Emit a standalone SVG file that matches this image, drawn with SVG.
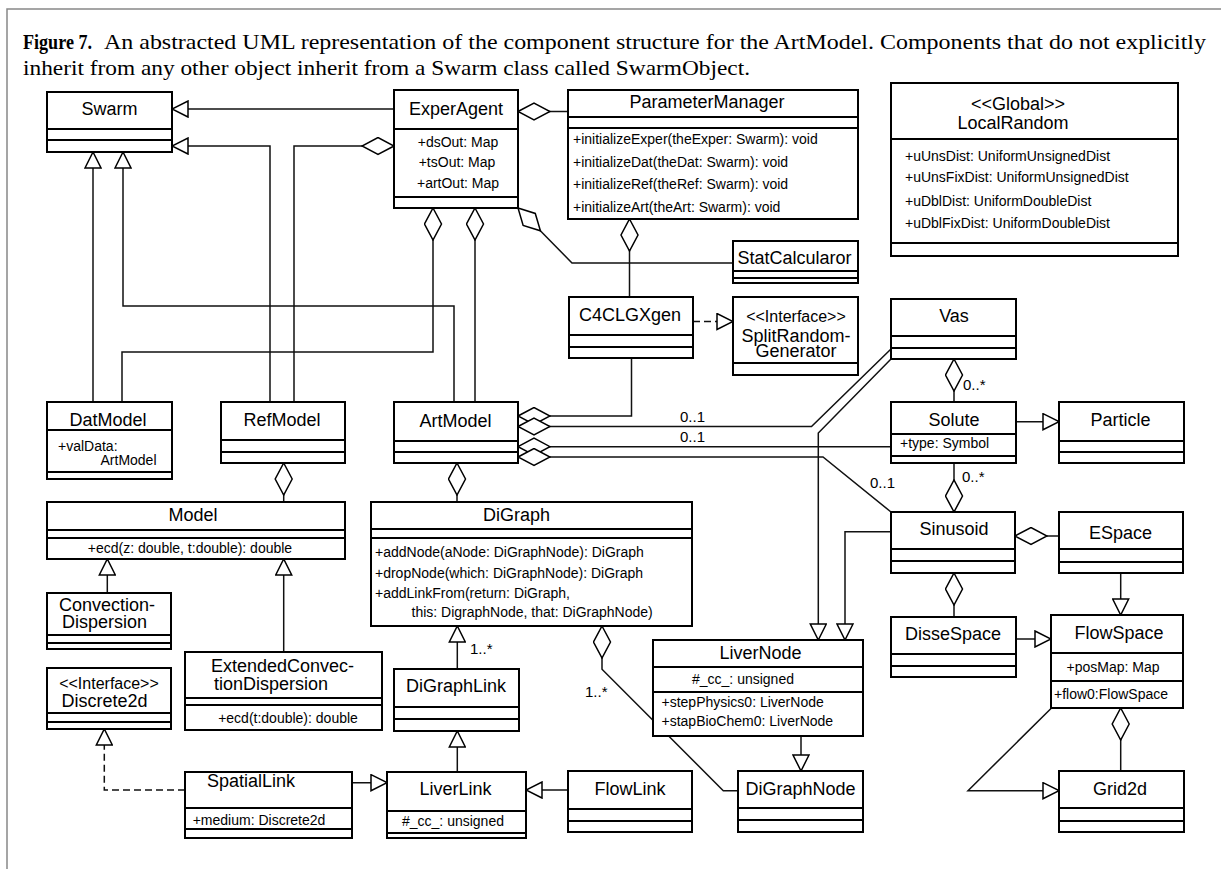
<svg xmlns="http://www.w3.org/2000/svg" width="1221" height="869" viewBox="0 0 1221 869">
<style>
.box{fill:#fff;stroke:#000;stroke-width:2}
.sep{stroke:#000;stroke-width:2;fill:none}
.conn{fill:none;stroke:#111;stroke-width:1.5}
.dash{stroke-dasharray:7,4}
.frame{stroke:#888;stroke-width:1.5;fill:none}
text{font-family:"Liberation Sans",Arial,sans-serif;fill:#000}
.n{font-size:18px;text-anchor:middle}
.nl{font-size:18px}
.st{font-size:16px;text-anchor:middle}
.a{font-size:14px}
.ac{font-size:14px;text-anchor:middle}
.lab{font-size:15px}
.cap{font-family:"Liberation Serif","Times New Roman",serif;font-size:21px}
</style>
<defs>
<marker id="tri" viewBox="-1 -1 18 18" refX="16" refY="8" markerWidth="18" markerHeight="18" markerUnits="userSpaceOnUse" orient="auto">
<path d="M0,0 L16,8 L0,16 Z" fill="#fff" stroke="#000" stroke-width="1.5"/>
</marker>
<marker id="dia" viewBox="-1 -1 34 19" refX="0" refY="8.5" markerWidth="34" markerHeight="19" markerUnits="userSpaceOnUse" orient="auto">
<path d="M0,8.5 L16,0 L32,8.5 L16,17 Z" fill="#fff" stroke="#000" stroke-width="1.5"/>
</marker>
</defs>
<rect width="1221" height="869" fill="#fff"/>
<path class="frame" d="M7,869 V9 H1221"/>
<g id="caption">
<text class="cap" x="23" y="49" font-weight="bold" textLength="69" lengthAdjust="spacingAndGlyphs">Figure 7.</text>
<text class="cap" x="104" y="49" textLength="1102" lengthAdjust="spacingAndGlyphs">An abstracted UML representation of the component structure for the ArtModel.  Components that do not explicitly</text>
<text class="cap" x="23" y="75" textLength="727" lengthAdjust="spacingAndGlyphs">inherit from any other object inherit from a Swarm class called SwarmObject.</text>
</g>
<g id="connectors">
<path class="conn" marker-end="url(#tri)" d="M394,109 H172"/>
<path class="conn" marker-end="url(#tri)" d="M270,402 V146 H172"/>
<path class="conn" marker-start="url(#dia)" d="M394,146 H294 V402"/>
<path class="conn" marker-end="url(#tri)" d="M93,402 V152"/>
<path class="conn" marker-end="url(#tri)" d="M454,402 V306 H123 V152"/>
<path class="conn" marker-start="url(#dia)" d="M433,208 V352 H122 V402"/>
<path class="conn" marker-start="url(#dia)" d="M475,208 V402"/>
<path class="conn" marker-start="url(#dia)" d="M518,111.5 H568"/>
<path class="conn" marker-start="url(#dia)" d="M518,208 L572,263 H733"/>
<path class="conn" marker-start="url(#dia)" d="M629.5,219 V297"/>
<path class="conn dash" marker-end="url(#tri)" d="M693,321.5 H733"/>
<path class="conn" marker-start="url(#dia)" d="M518,416 H631.5 V358"/>
<path class="conn" marker-start="url(#dia)" d="M518,426.5 H811.5 L891,349"/>
<path class="conn" marker-start="url(#dia)" d="M518,446.7 H891"/>
<path class="conn" marker-start="url(#dia)" d="M518,457 H823 L891,512"/>
<path class="conn" marker-end="url(#tri)" d="M891,359 L818.3,433 V640"/>
<path class="conn" marker-end="url(#tri)" d="M891,531.7 H845 V640"/>
<path class="conn" marker-start="url(#dia)" d="M954,359 V402"/>
<path class="conn" marker-end="url(#tri)" d="M1016,421.7 H1059"/>
<path class="conn" marker-start="url(#dia)" d="M954,512 V463"/>
<path class="conn" marker-start="url(#dia)" d="M1015,536 H1059"/>
<path class="conn" marker-end="url(#tri)" d="M1120.7,573 V615"/>
<path class="conn" marker-start="url(#dia)" d="M954,573 V617"/>
<path class="conn" marker-end="url(#tri)" d="M1016,639 H1051"/>
<path class="conn" marker-start="url(#dia)" d="M1120.7,708 V771"/>
<path class="conn" marker-end="url(#tri)" d="M1051,708.5 L968,790.7 H1059"/>
<path class="conn" marker-start="url(#dia)" d="M283.7,463 V502"/>
<path class="conn" marker-end="url(#tri)" d="M107.3,593 V559"/>
<path class="conn" marker-end="url(#tri)" d="M283.7,652 V559"/>
<path class="conn" marker-start="url(#dia)" d="M457,463 V502"/>
<path class="conn" marker-end="url(#tri)" d="M457.3,669 V626"/>
<path class="conn" marker-end="url(#tri)" d="M457.3,772 V731"/>
<path class="conn" marker-end="url(#tri)" d="M568,790 H526"/>
<path class="conn" marker-end="url(#tri)" d="M352,782.7 H387"/>
<path class="conn dash" marker-end="url(#tri)" d="M185,790 H104.3 V729"/>
<path class="conn" marker-start="url(#dia)" d="M602,626 V669.3 L723.3,790.7 H738"/>
<path class="conn" marker-end="url(#tri)" d="M801,736 V771"/>
<text class="lab" x="680" y="422">0..1</text>
<text class="lab" x="680" y="442">0..1</text>
<text class="lab" x="870" y="488">0..1</text>
<text class="lab" x="963" y="390">0..*</text>
<text class="lab" x="962" y="482">0..*</text>
<text class="lab" x="470" y="654">1..*</text>
<text class="lab" x="585" y="697">1..*</text>
</g>
<g id="Swarm">
<rect class="box" x="47" y="92" width="125" height="60"/>
<path class="sep" d="M47,129 H172 M47,140 H172"/>
<text class="n" x="109.5" y="115">Swarm</text>
</g>
<g id="ExperAgent">
<rect class="box" x="394" y="90" width="124" height="118"/>
<path class="sep" d="M394,129 H518 M394,197 H518"/>
<text class="n" x="456" y="115">ExperAgent</text>
<text class="ac" x="458" y="147">+dsOut: Map</text>
<text class="ac" x="457" y="167">+tsOut: Map</text>
<text class="ac" x="458" y="188">+artOut: Map</text>
</g>
<g id="ParameterManager">
<rect class="box" x="568" y="90" width="290" height="129"/>
<path class="sep" d="M568,117 H858 M568,128 H858"/>
<text class="n" x="707" y="108">ParameterManager</text>
<text class="a" x="573" y="144">+initializeExper(theExper: Swarm): void</text>
<text class="a" x="573" y="166.5">+initializeDat(theDat: Swarm): void</text>
<text class="a" x="573" y="189">+initializeRef(theRef: Swarm): void</text>
<text class="a" x="573" y="211.5">+initializeArt(theArt: Swarm): void</text>
</g>
<g id="StatCalcularor">
<rect class="box" x="733" y="241" width="125" height="42"/>
<path class="sep" d="M733,271 H858 M733,278 H858"/>
<text class="n" x="794.5" y="264">StatCalcularor</text>
</g>
<g id="LocalRandom">
<rect class="box" x="891" y="83" width="287" height="173"/>
<path class="sep" d="M891,139 H1178 M891,243 H1178"/>
<text class="n" x="1018" y="110">&lt;&lt;Global&gt;&gt;</text>
<text class="n" x="1013" y="129">LocalRandom</text>
<text class="a" x="905" y="161">+uUnsDist: UniformUnsignedDist</text>
<text class="a" x="905" y="182">+uUnsFixDist: UniformUnsignedDist</text>
<text class="a" x="905" y="206">+uDblDist: UniformDoubleDist</text>
<text class="a" x="905" y="228">+uDblFixDist: UniformDoubleDist</text>
</g>
<g id="C4CLGXgen">
<rect class="box" x="569" y="297" width="124" height="61"/>
<path class="sep" d="M569,335 H693 M569,347 H693"/>
<text class="n" x="630" y="321">C4CLGXgen</text>
</g>
<g id="SplitRandomGenerator">
<rect class="box" x="733" y="297" width="125" height="78"/>
<path class="sep" d="M733,363 H858"/>
<text class="st" x="796" y="321.5">&lt;&lt;Interface&gt;&gt;</text>
<text class="n" x="796" y="342">SplitRandom-</text>
<text class="n" x="796" y="357">Generator</text>
</g>
<g id="Vas">
<rect class="box" x="891" y="299" width="125" height="60"/>
<path class="sep" d="M891,336 H1016 M891,348 H1016"/>
<text class="n" x="954" y="321.5">Vas</text>
</g>
<g id="DatModel">
<rect class="box" x="47" y="402" width="125" height="77"/>
<path class="sep" d="M47,430 H172 M47,472 H172"/>
<text class="n" x="108" y="425.5">DatModel</text>
<text class="a" x="58" y="450.5">+valData:</text>
<text class="a" x="100.5" y="465">ArtModel</text>
</g>
<g id="RefModel">
<rect class="box" x="221" y="402" width="124" height="61"/>
<path class="sep" d="M221,440 H345 M221,452 H345"/>
<text class="n" x="282" y="425.5">RefModel</text>
</g>
<g id="ArtModel">
<rect class="box" x="394" y="402" width="124" height="61"/>
<path class="sep" d="M394,441 H518 M394,452 H518"/>
<text class="n" x="455.5" y="426.5">ArtModel</text>
</g>
<g id="Solute">
<rect class="box" x="891" y="402" width="125" height="61"/>
<path class="sep" d="M891,434 H1016 M891,456 H1016"/>
<text class="n" x="954" y="426">Solute</text>
<text class="a" x="900" y="448">+type: Symbol</text>
</g>
<g id="Particle">
<rect class="box" x="1059" y="402" width="125" height="61"/>
<path class="sep" d="M1059,441 H1184 M1059,452 H1184"/>
<text class="n" x="1120.5" y="425.5">Particle</text>
</g>
<g id="Model">
<rect class="box" x="47" y="502" width="298" height="57"/>
<path class="sep" d="M47,530 H345 M47,538 H345"/>
<text class="n" x="193" y="520.5">Model</text>
<text class="ac" x="190" y="553">+ecd(z: double, t:double): double</text>
</g>
<g id="DiGraph">
<rect class="box" x="371" y="502" width="321" height="124"/>
<path class="sep" d="M371,529 H692 M371,538 H692"/>
<text class="n" x="516.5" y="520.5">DiGraph</text>
<text class="a" x="375" y="556.5">+addNode(aNode: DiGraphNode): DiGraph</text>
<text class="a" x="375" y="577.5">+dropNode(which: DiGraphNode): DiGraph</text>
<text class="a" x="375" y="598.3">+addLinkFrom(return: DiGraph,</text>
<text class="a" x="411.5" y="616.5">this: DigraphNode, that: DiGraphNode)</text>
</g>
<g id="Sinusoid">
<rect class="box" x="891" y="512" width="124" height="61"/>
<path class="sep" d="M891,549 H1015 M891,561 H1015"/>
<text class="n" x="954" y="535">Sinusoid</text>
</g>
<g id="ESpace">
<rect class="box" x="1059" y="512" width="124" height="61"/>
<path class="sep" d="M1059,549 H1183 M1059,562 H1183"/>
<text class="n" x="1120.5" y="539">ESpace</text>
</g>
<g id="ConvectionDispersion">
<rect class="box" x="47" y="593" width="124" height="56"/>
<path class="sep" d="M47,635 H171 M47,643 H171"/>
<text class="nl" x="59" y="611">Convection-</text>
<text class="nl" x="62" y="628">Dispersion</text>
</g>
<g id="ExtendedConvectionDispersion">
<rect class="box" x="185" y="652" width="197" height="78"/>
<path class="sep" d="M185,698 H382 M185,705 H382"/>
<text class="n" x="282.5" y="671.5">ExtendedConvec-</text>
<text class="n" x="271" y="689.5">tionDispersion</text>
<text class="ac" x="288" y="723">+ecd(t:double): double</text>
</g>
<g id="Discrete2d">
<rect class="box" x="47" y="668" width="124" height="61"/>
<path class="sep" d="M47,713 H171 M47,722 H171"/>
<text class="st" x="109" y="689">&lt;&lt;Interface&gt;&gt;</text>
<text class="n" x="104.5" y="706.5">Discrete2d</text>
</g>
<g id="LiverNode">
<rect class="box" x="653" y="640" width="210" height="96"/>
<path class="sep" d="M653,667 H863 M653,692 H863"/>
<text class="n" x="760.5" y="659">LiverNode</text>
<text class="ac" x="743" y="684">#_cc_: unsigned</text>
<text class="a" x="661.5" y="706.5">+stepPhysics0: LiverNode</text>
<text class="a" x="661.5" y="725.5">+stapBioChem0: LiverNode</text>
</g>
<g id="DisseSpace">
<rect class="box" x="891" y="617" width="125" height="60"/>
<path class="sep" d="M891,654 H1016 M891,666 H1016"/>
<text class="n" x="953" y="640">DisseSpace</text>
</g>
<g id="FlowSpace">
<rect class="box" x="1051" y="615" width="132" height="93"/>
<path class="sep" d="M1051,653 H1183 M1051,681 H1183"/>
<text class="n" x="1119" y="639">FlowSpace</text>
<text class="ac" x="1113" y="671.5">+posMap: Map</text>
<text class="a" x="1054" y="699.3">+flow0:FlowSpace</text>
</g>
<g id="DiGraphLink">
<rect class="box" x="394" y="669" width="125" height="62"/>
<path class="sep" d="M394,707 H519 M394,719 H519"/>
<text class="n" x="456" y="692.3">DiGraphLink</text>
</g>
<g id="LiverLink">
<rect class="box" x="387" y="772" width="139" height="66"/>
<path class="sep" d="M387,811 H526 M387,833 H526"/>
<text class="n" x="455.5" y="795">LiverLink</text>
<text class="ac" x="453" y="825.5">#_cc_: unsigned</text>
</g>
<g id="FlowLink">
<rect class="box" x="568" y="771" width="124" height="61"/>
<path class="sep" d="M568,809 H692 M568,821 H692"/>
<text class="n" x="630" y="795">FlowLink</text>
</g>
<g id="SpatialLink">
<rect class="box" x="185" y="772" width="167" height="66"/>
<path class="sep" d="M185,808 H352 M185,829 H352"/>
<text class="n" x="251" y="786.5">SpatialLink</text>
<text class="ac" x="259" y="825">+medium: Discrete2d</text>
</g>
<g id="DiGraphNode">
<rect class="box" x="738" y="771" width="125" height="61"/>
<path class="sep" d="M738,808 H863 M738,820 H863"/>
<text class="n" x="800.5" y="795">DiGraphNode</text>
</g>
<g id="Grid2d">
<rect class="box" x="1059" y="771" width="125" height="61"/>
<path class="sep" d="M1059,808 H1184 M1059,821 H1184"/>
<text class="n" x="1120" y="795">Grid2d</text>
</g>
</svg>
